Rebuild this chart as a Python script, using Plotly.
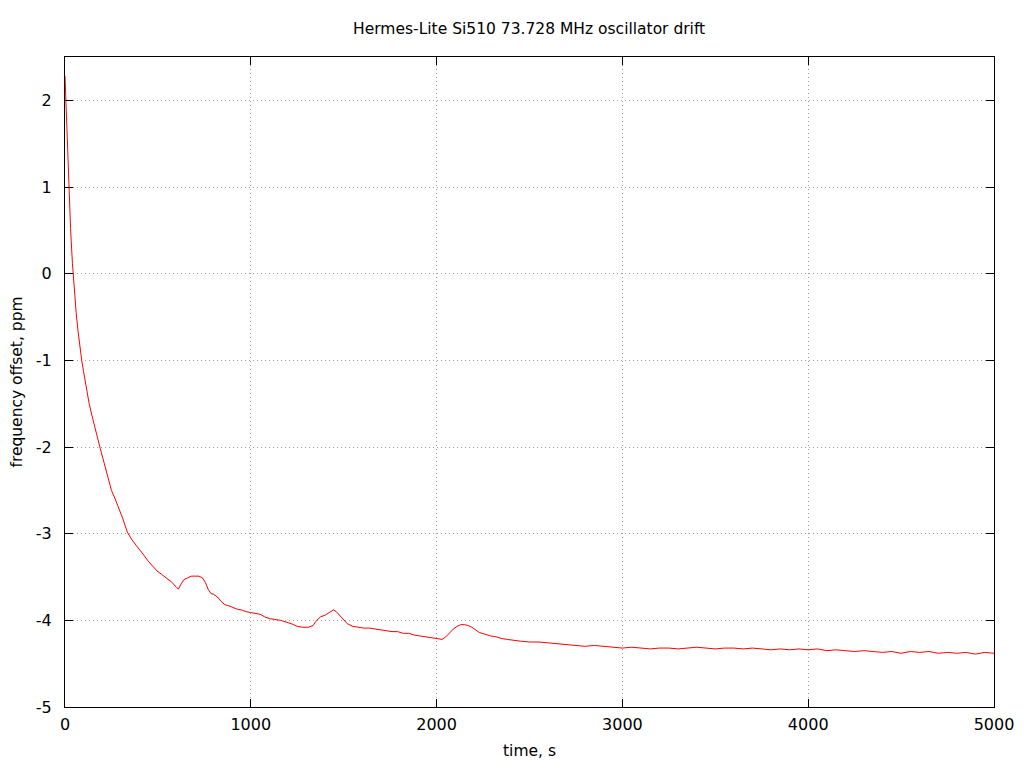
import plotly.graph_objects as go

# sampled readings (time in s, offset in ppm)
time_s = [0, 5, 10, 15, 20, 25, 30, 40, 50, 60, 70, 80, 90, 100, 115, 130, 150, 170, 190, 210,
          230, 250, 270, 290, 310, 335, 360, 385, 405, 425, 445, 470, 495, 520, 550, 575, 600, 610,
          625, 640, 660, 680, 700, 720, 740, 755, 770, 785, 800, 820, 840, 860, 880, 900, 925, 950,
          975, 1000, 1025, 1050, 1075, 1100, 1130, 1160, 1190, 1220, 1250, 1280, 1310, 1335, 1355,
          1375, 1400, 1425, 1445, 1460, 1480, 1500, 1520, 1550, 1580, 1610, 1640, 1670, 1700, 1730,
          1760, 1790, 1820, 1850, 1880, 1910, 1940, 1970, 2000, 2030, 2050, 2070, 2090, 2110, 2130,
          2150, 2170, 2190, 2210, 2230, 2260, 2290, 2320, 2350, 2380, 2410, 2450, 2500, 2550, 2600,
          2650, 2700, 2750, 2800, 2850, 2900, 2950, 3000,
          3050, 3100, 3150, 3200, 3250, 3300, 3350, 3400, 3450, 3500,
          3550, 3600, 3650, 3700, 3750, 3800, 3850, 3900, 3950, 4000,
          4050, 4100, 4150, 4200, 4250, 4300, 4350, 4400, 4450, 4500,
          4550, 4600, 4650, 4700, 4750, 4800, 4850, 4900, 4950, 5000]

offset_ppm = [2.28, 1.95, 1.62, 1.30, 1.02, 0.75, 0.52, 0.12, -0.20, -0.45, -0.66, -0.85, -1.00, -1.13,
              -1.32, -1.50, -1.68, -1.86, -2.02, -2.18, -2.33, -2.50, -2.60, -2.70, -2.82, -2.98,
              -3.07, -3.14, -3.19, -3.25, -3.31, -3.37, -3.43, -3.47, -3.52, -3.56, -3.62, -3.64,
              -3.58, -3.53, -3.51, -3.49, -3.49, -3.49, -3.51, -3.56, -3.64, -3.69, -3.70, -3.73,
              -3.78, -3.82, -3.83, -3.85, -3.87, -3.88, -3.90, -3.91, -3.92, -3.93, -3.96, -3.98,
              -3.99, -4.00, -4.02, -4.04, -4.07, -4.08, -4.08, -4.06, -4.00, -3.96, -3.94, -3.91,
              -3.88, -3.90, -3.95, -4.00, -4.04, -4.07, -4.08, -4.09, -4.09, -4.10, -4.11, -4.12,
              -4.13, -4.13, -4.15, -4.15, -4.17, -4.18, -4.19, -4.20, -4.21, -4.22, -4.19, -4.14,
              -4.10, -4.07, -4.05, -4.05, -4.06, -4.08, -4.11, -4.14, -4.16, -4.18, -4.19, -4.21,
              -4.22, -4.23, -4.24, -4.25, -4.25, -4.26, -4.27, -4.28, -4.29, -4.30, -4.29, -4.30,
              -4.31, -4.32,
              -4.31, -4.32, -4.33, -4.32, -4.32, -4.33, -4.32, -4.31, -4.32, -4.33,
              -4.32, -4.32, -4.33, -4.32, -4.33, -4.34, -4.33, -4.34, -4.33, -4.34,
              -4.33, -4.35, -4.34, -4.35, -4.36, -4.35, -4.36, -4.37, -4.36, -4.38,
              -4.36, -4.37, -4.36, -4.38, -4.37, -4.38, -4.37, -4.39, -4.37, -4.38]

x_ticks = [0, 1000, 2000, 3000, 4000, 5000]
y_ticks = [-5, -4, -3, -2, -1, 0, 1, 2]
y_tick_labels = ["-5", "-4", "-3", "-2", "-1", "0", "1", "2"]

fig = go.Figure()
fig.add_trace(go.Scatter(x=time_s, y=offset_ppm, mode="lines",
                         line=dict(color="#ff0000", width=1), showlegend=False))

axis_style = dict(showline=True, linecolor="black", linewidth=1, mirror="allticks",
                  ticks="inside", ticklen=8, tickcolor="black", automargin=False,
                  showgrid=True, gridcolor="#a0a0a0", griddash="1px,3px", gridwidth=1,
                  zeroline=False, tickfont=dict(size=16, color="black"))

# page body has an 8px margin, so the figure is sized to fit inside the window
fig.update_layout(
    width=1008, height=752,
    margin=dict(l=57, r=22, t=49, b=53),
    paper_bgcolor="white", plot_bgcolor="white",
    font=dict(family="DejaVu Sans", color="black"),
    title=dict(text="Hermes-Lite Si510 73.728 MHz oscillator drift",
               x=0.517, xanchor="center", y=0.973, yanchor="middle", font=dict(size=15.5)),
    xaxis=dict(range=[0, 5000], tickvals=x_ticks, ticklabelstandoff=3,
               title=dict(text="time, s", font=dict(size=15.5), standoff=11), **axis_style),
    yaxis=dict(range=[-5, 2.5], tickvals=y_ticks, ticktext=y_tick_labels, ticklabelstandoff=9,
               title=dict(text="frequency offset, ppm", font=dict(size=15.5), standoff=12), **axis_style),
)

fig.write_html("out.html")
